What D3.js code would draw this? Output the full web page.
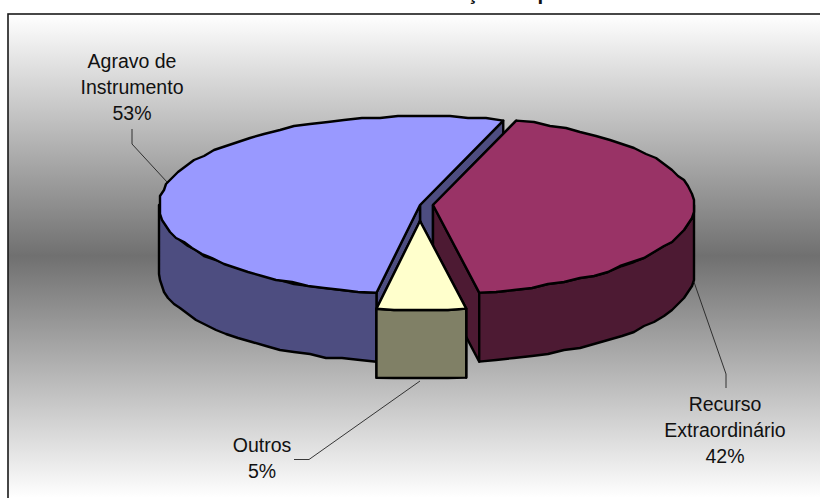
<!DOCTYPE html>
<html><head><meta charset="utf-8">
<script src="https://cdn.jsdelivr.net/npm/d3@7"></script>
<style>html,body{margin:0;padding:0;background:#fff}svg{display:block}text{font-family:"Liberation Sans",Arial,sans-serif;fill:#111}</style>
</head><body><svg id="c" width="820" height="498"></svg>
<script>
const categories = ["Agravo de Instrumento", "Recurso Extraordinário", "Outros"];
const values = [52.5, 42.0, 5.5];
const labelLines = [["Agravo de", "Instrumento", "53%"], ["Recurso", "Extraordinário", "42%"], ["Outros", "5%"]];
const topColors = ["#9999ff", "#993366", "#ffffcc"];
const sideColors = ["#4d4d80", "#4d1a33", "#808066"];

const svg = d3.select("#c");
const defs = svg.append("defs");
const g = defs.append("linearGradient").attr("id", "bg").attr("gradientUnits", "userSpaceOnUse")
  .attr("x1", 0).attr("x2", 0).attr("y1", 14).attr("y2", 498);
[[0, "#ffffff"], [0.5, "#707070"], [1, "#ffffff"]].forEach(([o, c]) => g.append("stop").attr("offset", o).attr("stop-color", c));

svg.append("rect").attr("x", 8).attr("y", 14).attr("width", 830).attr("height", 500)
  .attr("fill", "url(#bg)").attr("stroke", "#1a1a1a").attr("stroke-width", 1.6);

svg.append("text").attr("x", 512).attr("y", 0).attr("text-anchor", "middle")
  .attr("font-size", 20.5).attr("font-weight", "bold").text("Distribuição de processos");

const rx = 261, ry = 89, depth = 69;
const centers = [{x: 420, y: 205}, {x: 433, y: 205}, {x: 420, y: 221}];
const deg = Math.PI / 180;
const pie = d3.pie().sort(null).startAngle(-170.4 * deg).endAngle(189.6 * deg);
const arcs = pie(values);

function exact(c, a, dz) { return [c.x + rx * Math.sin(a), c.y - ry * Math.cos(a) + (dz || 0)]; }
function pt(c, a, dz) { return exact(c, a, dz).map(v => Math.round(v / 2) * 2); }
function samples(a0, a1) {
  const n = Math.max(2, Math.ceil(Math.abs(a1 - a0) / (4 * deg)));
  return d3.range(n + 1).map(i => a0 + (a1 - a0) * i / n);
}
const line = d3.line().curve(d3.curveLinear);
function rimPts(c, a0, a1, dz) {
  const s = samples(a0, a1);
  return s.map((a, i) => (i === 0 || i === s.length - 1) ? exact(c, a, dz) : pt(c, a, dz));
}
const layer = svg.append("g");
function drawFace(fill, pts) {
  layer.append("path").attr("d", line(pts) + "Z").attr("fill", fill)
    .attr("stroke", "#000").attr("stroke-width", 2.4).attr("stroke-linejoin", "round");
}
function drawSlice(i) {
  const d = arcs[i], c = centers[i], apex = [c.x, c.y], apexB = [c.x, c.y + depth];
  const a0 = d.startAngle, a1 = d.endAngle;
  // Cut faces, the one whose rim lies further back first
  [a0, a1].sort((p, q) => exact(c, p)[1] - exact(c, q)[1]).forEach(a => {
    drawFace(sideColors[i], [apex, apexB, exact(c, a, depth), exact(c, a)]);
  });
  const segs = [];
  if (Math.max(a0, 90 * deg) < Math.min(a1, 270 * deg)) segs.push([Math.max(a0, 90 * deg), Math.min(a1, 270 * deg)]);
  if (a0 < -90 * deg) segs.push([a0, Math.min(a1, -90 * deg)]);
  segs.forEach(([s, e]) => {
    drawFace(sideColors[i], rimPts(c, s, e, 0).concat(rimPts(c, s, e, depth).reverse()));
  });
  drawFace(topColors[i], [apex].concat(rimPts(c, a0, a1, 0)));
}
categories.forEach((_, i) => drawSlice(i));

const leaders = [
  [[132, 129], [132, 144], [167, 182]],
  [[726, 388], [726, 374], [694, 282]],
  [[294, 459.5], [309, 459.5], [420, 381]]
];
leaders.forEach(p => svg.append("path").attr("d", d3.line()(p)).attr("fill", "none").attr("stroke", "#222").attr("stroke-width", 0.9));

const labelPos = [[132, 68], [725, 411], [262, 452]];
labelLines.forEach((ls, i) => {
  const t = svg.append("text").attr("text-anchor", "middle").attr("font-size", 19.5);
  ls.forEach((s, j) => t.append("tspan").attr("x", labelPos[i][0]).attr("y", labelPos[i][1] + j * 26).text(s));
});
</script></body></html>
